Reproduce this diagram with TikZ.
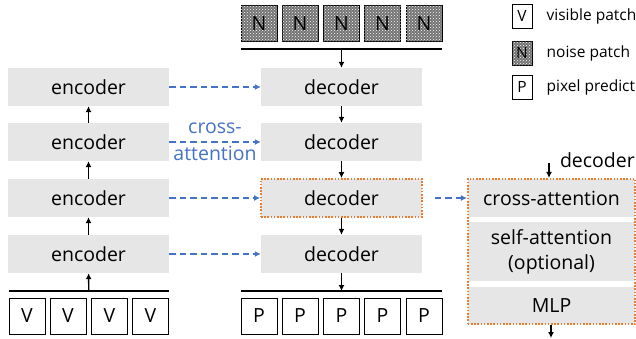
\documentclass[tikz,border=0pt]{standalone}
\usepackage{fontspec}
\setmainfont{Open Sans}
\usetikzlibrary{patterns,positioning,fit,arrows.meta}
\definecolor{boxgray}{RGB}{231,230,230}
\definecolor{attblue}{RGB}{68,114,196}
\definecolor{hlorange}{RGB}{237,125,49}

\begin{document}
\begin{tikzpicture}[x=1pt, y=-1pt,
    every node/.style={font=\fontsize{19.5}{27}\selectfont},
    block/.style={fill=boxgray, minimum width=161pt, minimum height=38pt, inner sep=0pt},
    inner/.style={fill=boxgray, minimum width=167pt, inner sep=0pt, align=center},
    patch/.style={draw, line width=0.9pt, minimum width=36pt, minimum height=36pt, inner sep=0pt},
    noisefill/.style={fill=black!55, postaction={pattern=crosshatch dots, pattern color=white}},
    legend/.style={draw, line width=0.9pt, minimum width=20pt, minimum height=24pt, inner sep=0pt, font=\fontsize{15.5}{18}\selectfont},
    legtext/.style={font=\fontsize{15.5}{18}\selectfont, inner sep=0pt},
    flow/.style={-{Latex[length=6pt,width=6pt]}, line width=1.4pt},
    xatt/.style={-{Latex[length=6pt,width=6pt]}, attblue, line width=1.3pt, dash pattern=on 6.5pt off 4pt},
    bar/.style={line width=1.5pt},
    hilite/.style={draw=hlorange, line width=1.8pt, dash pattern=on 1.6pt off 1.6pt}]
  \useasboundingbox (0,0) rectangle (636,338);

  % encoder stack
  \node[block] (enc1) at (88.5,87) {encoder};
  \node[block] (enc2) at (88.5,142) {encoder};
  \node[block] (enc3) at (88.5,198) {encoder};
  \node[block] (enc4) at (88.5,254) {encoder};

  % decoder stack
  \node[block] (dec1) at (341.5,87) {decoder};
  \node[block] (dec2) at (341.5,142) {decoder};
  \node[block, hilite] (dec3) at (341.5,198) {decoder};
  \node[block] (dec4) at (341.5,254) {decoder};

  % patches
  \foreach \i/\x in {1/27,2/68,3/109.5,4/150.5}
    \node[patch] (v\i) at (\x,316) {V};
  \foreach \i/\x in {1/259,2/300,3/341.5,4/382.5,5/424} {
    \node[patch, noisefill] (n\i) at (\x,23.5) {N};
    \node[patch] (p\i) at (\x,316) {P};
  }
  \draw[bar] (v1.west |- 0,291) -- coordinate (vbar) (v4.east |- 0,291);
  \draw[bar] (n1.west |- 0,49) -- coordinate (nbar) (n5.east |- 0,49);
  \draw[bar] (p1.west |- 0,291) -- coordinate (pbar) (p5.east |- 0,291);

  % forward flow
  \draw[flow] (vbar) -- (enc4);
  \draw[flow] (enc4) -- (enc3);
  \draw[flow] (enc3) -- (enc2);
  \draw[flow] (enc2) -- (enc1);
  \draw[flow] (nbar) -- (dec1);
  \draw[flow] (dec1) -- (dec2);
  \draw[flow] (dec2) -- (dec3);
  \draw[flow] (dec3) -- (dec4);
  \draw[flow] (dec4) -- (pbar);

  % cross-attention links
  \draw[xatt] (enc1) -- (dec1);
  \draw[xatt] (enc2) -- node[attblue, align=center] {cross-\\attention} (dec2);
  \draw[xatt] (enc3) -- (dec3);
  \draw[xatt] (enc4) -- (dec4);

  % decoder detail
  \node[inner, minimum height=38pt] (crossatt) at (551.5,198) {cross-attention};
  \node[inner, minimum height=59pt, font=\fontsize{19.5}{25}\selectfont] (selfatt) at (551.5,251.5) {self-attention\\(optional)};
  \node[inner, minimum height=37pt] (mlp) at (551.5,305.5) {MLP};
  \node[hilite, fit=(crossatt)(mlp), inner sep=0pt] (detail) {};
  \draw[xatt] (dec3.east) ++(12,0) coordinate (xfrom) (xfrom) -- (detail.west |- xfrom);
  \coordinate (decin) at (549,163);
  \node[anchor=east, inner sep=0pt] (declabel) at (635,160) {decoder};
  \draw[flow] (decin) -- (decin |- detail.north);
  \coordinate (decout) at (551,338);
  \draw[flow] (decout |- detail.south) -- (decout);

  % legend
  \node[legend] (lv) at (522,16) {V};
  \node[legtext, right=14pt of lv] {visible patch};
  \node[legend, noisefill] (ln) at (522,53) {N};
  \node[legtext, right=14pt of ln] {noise patch};
  \node[legend] (lp) at (522,87) {P};
  \node[legtext, right=14pt of lp] {pixel predict};
\end{tikzpicture}
\end{document}
